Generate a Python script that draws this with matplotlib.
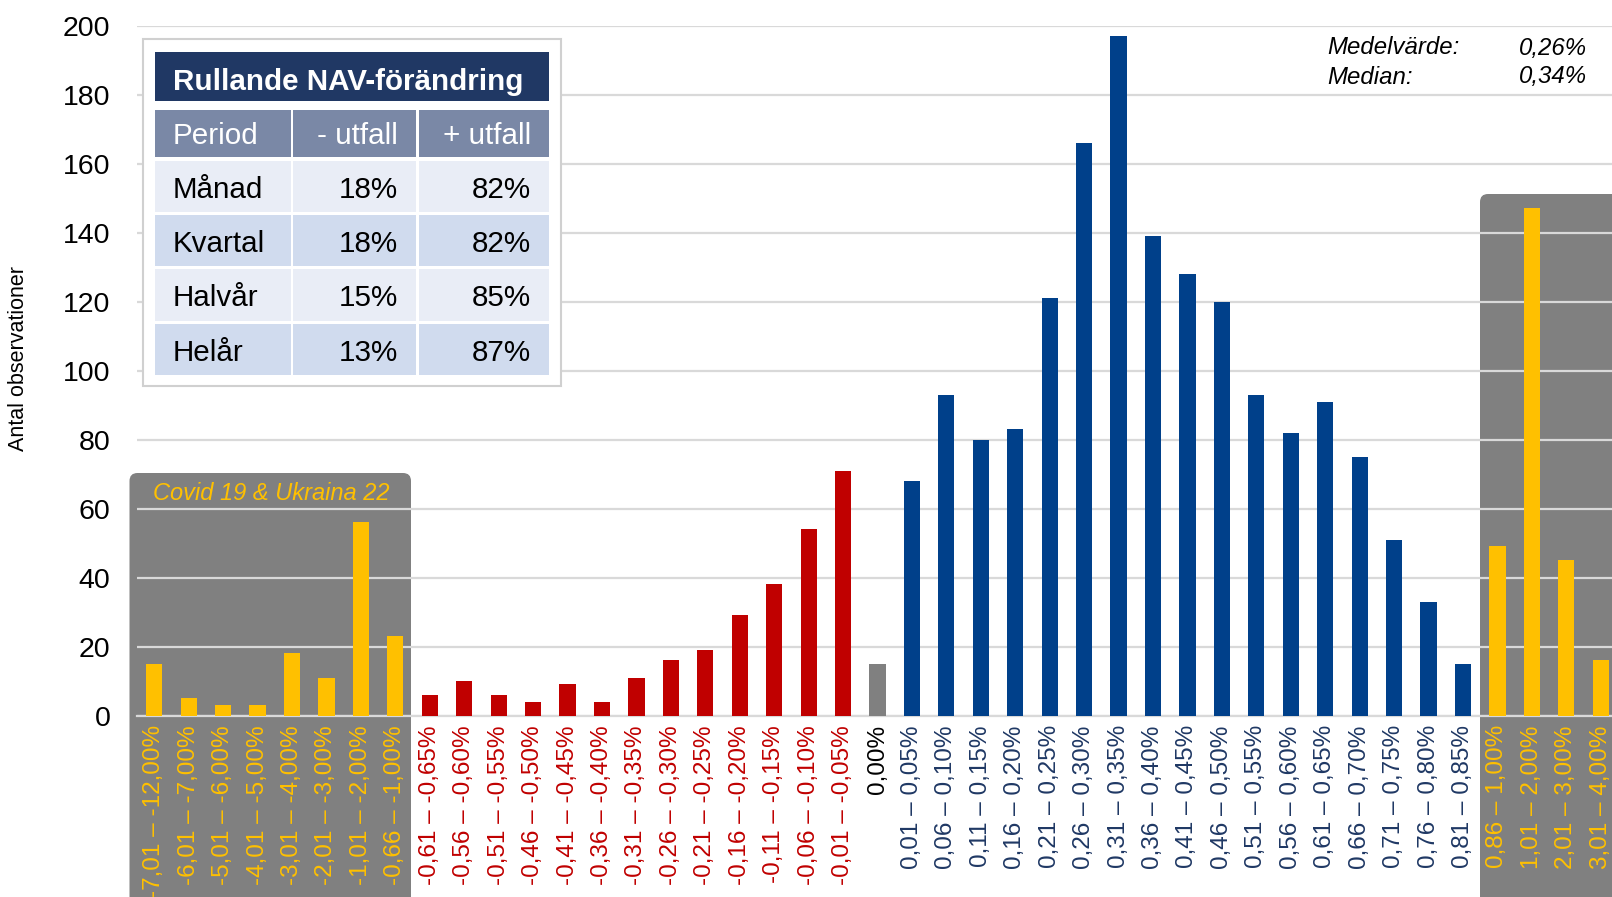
import matplotlib
matplotlib.use("Agg")
import matplotlib.pyplot as plt
from matplotlib.patches import Rectangle, FancyBboxPatch

plt.rcParams['font.family'] = ['Liberation Sans', 'DejaVu Sans']

# intervals (rolling NAV change) and number of observations
categories = [
    "-7,01 – -12,00%", "-6,01 – -7,00%", "-5,01 – -6,00%", "-4,01 – -5,00%",
    "-3,01 – -4,00%", "-2,01 – -3,00%", "-1,01 – -2,00%", "-0,66 – -1,00%",
    "-0,61 – -0,65%", "-0,56 – -0,60%", "-0,51 – -0,55%", "-0,46 – -0,50%",
    "-0,41 – -0,45%", "-0,36 – -0,40%", "-0,31 – -0,35%", "-0,26 – -0,30%",
    "-0,21 – -0,25%", "-0,16 – -0,20%", "-0,11 – -0,15%", "-0,06 – -0,10%",
    "-0,01 – -0,05%", "0,00%",
    "0,01 – 0,05%", "0,06 – 0,10%", "0,11 – 0,15%", "0,16 – 0,20%",
    "0,21 – 0,25%", "0,26 – 0,30%", "0,31 – 0,35%", "0,36 – 0,40%",
    "0,41 – 0,45%", "0,46 – 0,50%", "0,51 – 0,55%", "0,56 – 0,60%",
    "0,61 – 0,65%", "0,66 – 0,70%", "0,71 – 0,75%", "0,76 – 0,80%",
    "0,81 – 0,85%", "0,86 – 1,00%", "1,01 – 2,00%", "2,01 – 3,00%",
    "3,01 – 4,00%",
]
counts = [15, 5, 3, 3, 18, 11, 56, 23,
          6, 10, 6, 4, 9, 4, 11, 16, 19, 29, 38, 54, 71,
          15,
          68, 93, 80, 83, 121, 166, 197, 139, 128, 120, 93, 82, 91, 75, 51, 33, 15,
          49, 147, 45, 16]
groups = (["extreme"] * 8 + ["neg"] * 13 + ["zero"] + ["pos"] * 17 + ["extreme"] * 4)

bar_colors = {"extreme": "#FFC000", "neg": "#C00000", "zero": "#808080", "pos": "#00408A"}
label_colors = {"extreme": "#FFC000", "neg": "#C00000", "zero": "#000000", "pos": "#1F3864"}

# summary table
table_title = "Rullande NAV-förändring"
table_header = ["Period", "- utfall", "+ utfall"]
periods = ["Månad", "Kvartal", "Halvår", "Helår"]
neg_share = ["18%", "18%", "15%", "13%"]
pos_share = ["82%", "82%", "85%", "87%"]

stats_names = ["Medelvärde:", "Median:"]
stats_values = ["0,26%", "0,34%"]

W, H = 1612, 897
fig = plt.figure(figsize=(W / 100, H / 100), dpi=100)
ax = fig.add_axes([137 / W, (H - 715.5) / H, 1481 / W, 689.8 / H])
ax.set_facecolor("none")

x = list(range(len(categories)))
ax.bar(x, counts, width=0.47, color=[bar_colors[g] for g in groups], zorder=3)
ax.set_xlim(-0.5, len(categories) - 0.5)
ax.set_ylim(0, 200)
ax.set_yticks(range(0, 201, 20))
ax.set_axisbelow(True)
ax.grid(axis="y", color="#D9D9D9", linewidth=1.6)
for s in ["top", "right", "left"]:
    ax.spines[s].set_visible(False)
ax.spines["bottom"].set_color("#D9D9D9")
ax.spines["bottom"].set_linewidth(1.6)

ax.set_xticks(x)
ax.set_xticklabels(categories, rotation=90, va="top", ha="center", fontsize=17.5)
for lbl, g in zip(ax.get_xticklabels(), groups):
    lbl.set_color(label_colors[g])
ax.tick_params(axis="x", length=0, pad=7)
ax.tick_params(axis="y", length=0, pad=19, labelsize=20.5)

fig.text(18.5 / W, 1 - 358 / H, "Antal observationer", rotation=90, ha="center", va="center",
         fontsize=15.5)

# grey highlight boxes behind the extreme outcomes (inch coordinates)
for x0, top, w in [(1.295, (H - 473) / 100, 2.815), (14.8, (H - 194) / 100, 3.0)]:
    fig.add_artist(FancyBboxPatch((x0, -0.5), w, top + 0.5,
                                  boxstyle="round,pad=0,rounding_size=0.08",
                                  transform=fig.dpi_scale_trans, facecolor="#808080",
                                  edgecolor="none", zorder=-1))
fig.text(271 / W, 1 - 493 / H, "Covid 19 & Ukraina 22", color="#FFC000", style="italic",
         fontsize=17, ha="center", va="center")


def box(x0, y0, x1, y1, **kw):
    fig.add_artist(Rectangle((x0 / W, 1 - y1 / H), (x1 - x0) / W, (y1 - y0) / H,
                             transform=fig.transFigure, **kw))


# table
box(143, 39, 561, 386.5, facecolor="white", edgecolor="#D0D0D0", linewidth=1.5, zorder=5)
box(155, 52, 549, 101, facecolor="#203864", edgecolor="none", zorder=6)
fig.text(172.7 / W, 1 - 81.5 / H, table_title, color="white", fontsize=21.3, fontweight="bold",
         ha="left", va="center", zorder=7)
cols = [(155, 291), (293, 416), (419, 549)]
rows = [(110, 157), (161, 212), (215, 266), (269, 321), (324, 375)]
row_fill = ["#7A88A6", "#E9EDF6", "#D0DBEE", "#E9EDF6", "#D0DBEE"]
cells = [table_header] + [[p, n, q] for p, n, q in zip(periods, neg_share, pos_share)]
for r, ((y0, y1), fill, vals) in enumerate(zip(rows, row_fill, cells)):
    tc = "white" if r == 0 else "black"
    for c, ((x0, x1), v) in enumerate(zip(cols, vals)):
        box(x0, y0, x1, y1, facecolor=fill, edgecolor="none", zorder=6)
        yc = 1 - ((y0 + y1) / 2 + 3) / H
        if c == 0:
            fig.text(172.7 / W, yc, v, color=tc, fontsize=21.3, ha="left", va="center", zorder=7)
        else:
            fig.text((x1 - 18) / W, yc, v, color=tc, fontsize=21.3, ha="right", va="center", zorder=7)

for i, (n, v) in enumerate(zip(stats_names, stats_values)):
    yc = 1 - (48 + 29 * i) / H
    fig.text(1327 / W, yc, n, style="italic", fontsize=17.3, ha="left", va="center")
    fig.text(1587 / W, yc, v, style="italic", fontsize=17.3, ha="right", va="center")

fig.savefig("out.png", dpi=100)
